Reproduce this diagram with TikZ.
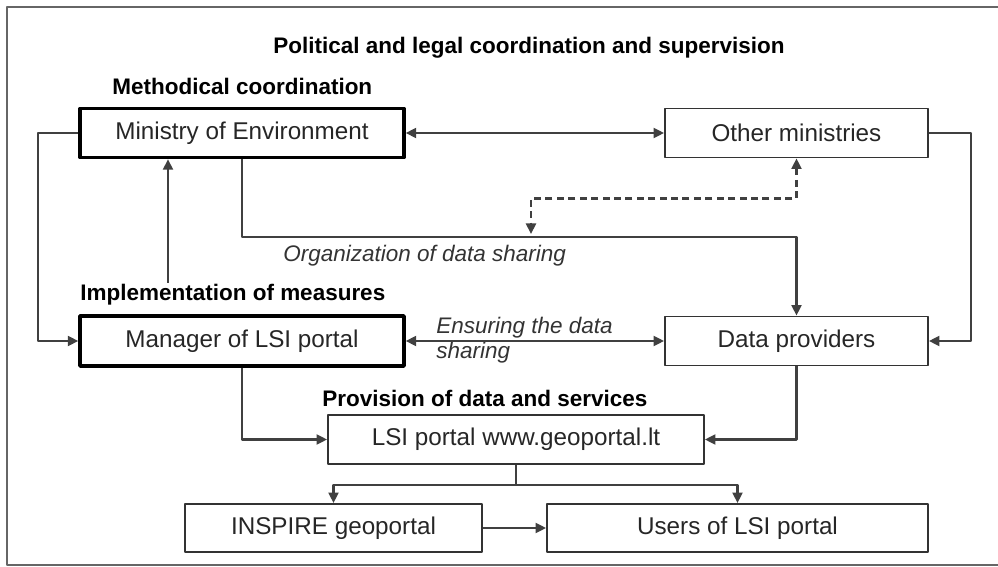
\documentclass[tikz,border=0pt]{standalone}
\usepackage{fontspec}
\setmainfont{Liberation Sans}
\usetikzlibrary{arrows.meta}
\begin{document}
\begin{tikzpicture}[x=0.02cm, y=-0.02cm, line join=round, >={Triangle[length=2.1mm,width=2mm]},
  box/.style={draw=black!80, line width=1.1pt, inner sep=0pt, text=black!85,
    font=\fontsize{13.8}{16}\selectfont},
  thickbox/.style={box, draw=black, line width=2pt},
  head/.style={font=\fontsize{12.8}{15}\selectfont\bfseries, inner sep=0pt},
  note/.style={font=\fontsize{12.8}{14.2}\selectfont\itshape, text=black!80, inner sep=0pt, align=left},
  link/.style={draw=black!75, line width=1.2pt}]
\useasboundingbox (0,0) rectangle (998,567);
% --- Khung ngoai ---
\draw[black!60, line width=1.2pt] (998,7) -- (7,7) -- (7,565) -- (998,565);

% --- Cac hop ---
\node[thickbox, minimum width=6.48cm, minimum height=0.98cm] (moe) at (242,133) {Ministry of Environment};
\node[box, minimum width=5.26cm, minimum height=0.98cm] (other) at (796.5,133) {Other ministries};
\node[thickbox, minimum width=6.48cm, minimum height=1cm] (mgr) at (242,341) {Manager of LSI portal};
\node[box, minimum width=5.26cm, minimum height=0.98cm] (dp) at (796.5,341) {Data providers};
\node[box, minimum width=7.52cm, minimum height=0.98cm] (lsi) at (516,439.5) {LSI portal www.geoportal.lt};
\node[box, minimum width=5.94cm, minimum height=0.96cm] (insp) at (333.5,528) {INSPIRE geoportal};
\node[box, minimum width=7.62cm, minimum height=0.96cm] (users) at (737.5,528) {Users of LSI portal};

% --- Tieu de ---
\node[head] (pol) at (529,48) {Political and legal coordination and supervision};
\node[head, anchor=west] (meth) at (112,86) {Methodical coordination};
\node[head, anchor=west] (impl) at (80,295) {Implementation of measures};
\node[head, anchor=west] (prov) at (322,398) {Provision of data and services};
\node[note, anchor=west] (org) at (283,256) {Organization of data sharing};
\node[note, anchor=west] (ens) at (436,340) {Ensuring the data\\sharing};

% --- Mui ten ---
\coordinate (up) at (168,283);
\coordinate (row) at (0,237);
\coordinate (dash) at (531,234);
\draw[link, <->] (moe) -- (other);
\draw[link, ->] (moe.west) -- ++(-40,0) |- (mgr.west);
\draw[link, ->] (up) -- (up |- moe.south);
\draw[link, ->] (moe.south) -- (moe.south |- row) -| (dp.north);
\draw[link, <->, dashed, dash pattern=on 4pt off 2.5pt] (other.south) -- ++(0,40) -| (dash);
\draw[link, ->] (other.east) -- ++(42,0) |- (dp.east);
\draw[link, <->] (mgr) -- (dp);
\draw[link, ->] (mgr.south) |- (lsi.west);
\draw[link, ->] (dp.south) |- (lsi.east);
\draw[link, ->] (lsi.south) -- ++(0,20) -| (insp.north);
\draw[link, ->] (lsi.south) -- ++(0,20) -| (users.north);
\draw[link, ->] (insp) -- (users);
\end{tikzpicture}
\end{document}
